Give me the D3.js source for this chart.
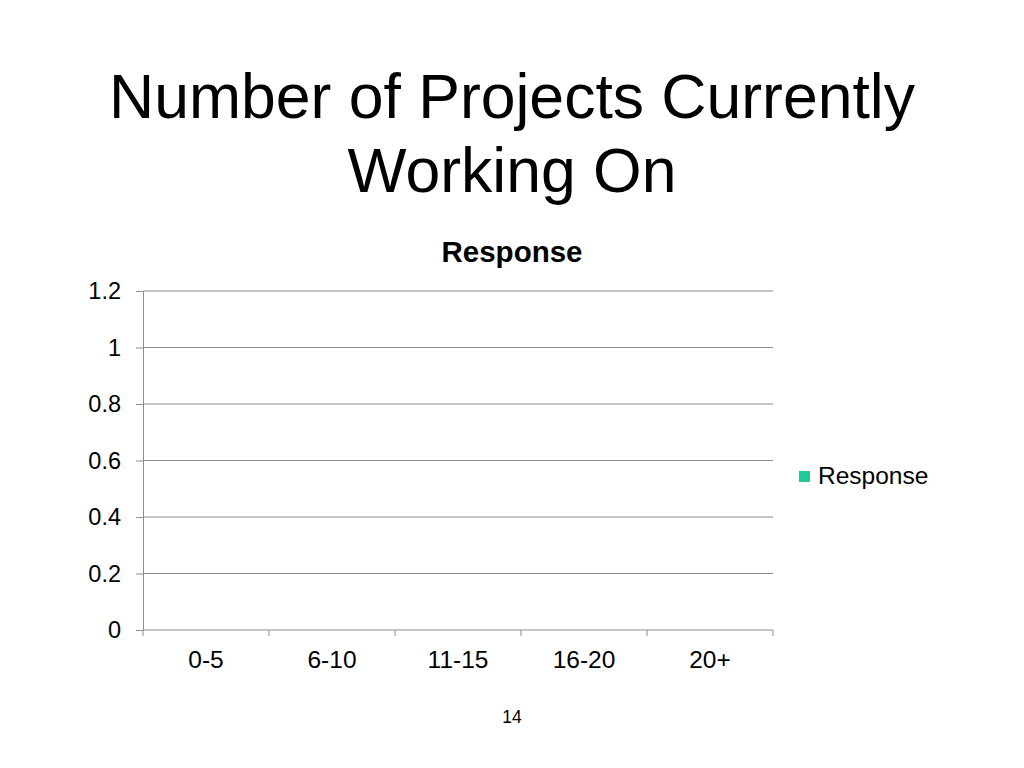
<!DOCTYPE html>
<html><head><meta charset="utf-8">
<script src="https://cdn.jsdelivr.net/npm/d3@7"></script>
<style>body{margin:0;background:#fff}svg{display:block;font-family:"Liberation Sans",Arial,sans-serif}</style>
</head><body>
<svg id="c" width="1024" height="768"></svg>
<script>
const categories = ["0-5","6-10","11-15","16-20","20+"];
const responseValues = [0,0,0,0,0];
const yTicks = [0,0.2,0.4,0.6,0.8,1,1.2];
const seriesName = "Response";

const svg = d3.select("#c");
const m = {l:143, r:773, t:291, b:630};
const x = d3.scaleBand().domain(categories).range([m.l, m.r]).paddingInner(0.5).paddingOuter(0.25);
const xEdge = d3.scaleLinear().domain([0, categories.length]).range([m.l, m.r]);
const y = d3.scaleLinear().domain([0,1.2]).range([m.b, m.t]);

svg.append("text").attr("x",512).attr("y",118).attr("text-anchor","middle")
  .attr("font-size",62.5).attr("fill","#000").text("Number of Projects Currently");
svg.append("text").attr("x",512).attr("y",192).attr("text-anchor","middle")
  .attr("font-size",62.5).attr("fill","#000").text("Working On");
svg.append("text").attr("x",512).attr("y",262).attr("text-anchor","middle")
  .attr("font-size",29.5).attr("font-weight","bold").attr("fill","#000").text(seriesName);

// gridlines + y axis
const yAxis = d3.axisLeft(y).tickValues(yTicks).tickFormat(d=>d3.format("")(d)).tickSize(7).tickPadding(15);
const ga = svg.append("g").attr("transform",`translate(${m.l},0)`).call(yAxis);
ga.select(".domain").attr("stroke","#8c8c8c");
ga.selectAll(".tick line").attr("stroke","#8c8c8c");
ga.selectAll(".tick text").attr("font-size",23.5).attr("fill","#000").attr("font-family","Liberation Sans, Arial, sans-serif");
svg.append("g").selectAll("line").data(yTicks.filter(d=>d>0)).join("line")
  .attr("x1",m.l).attr("x2",m.r).attr("y1",d=>y(d)).attr("y2",d=>y(d))
  .attr("stroke","#8c8c8c").attr("stroke-width",1);

// x axis
svg.append("line").attr("x1",m.l).attr("x2",m.r).attr("y1",m.b).attr("y2",m.b).attr("stroke","#8c8c8c");
svg.append("g").selectAll("line").data(d3.range(categories.length+1)).join("line")
  .attr("x1",d=>xEdge(d)).attr("x2",d=>xEdge(d)).attr("y1",m.b).attr("y2",m.b+6).attr("stroke","#8c8c8c");
svg.append("g").selectAll("text").data(categories).join("text")
  .attr("x",d=>x(d)+x.bandwidth()/2).attr("y",m.b+38).attr("text-anchor","middle")
  .attr("font-size",24.5).attr("fill","#000").text(d=>d);

// bars (all zero)
svg.append("g").selectAll("rect").data(responseValues).join("rect")
  .attr("x",(d,i)=>x(categories[i])).attr("width",x.bandwidth())
  .attr("y",d=>y(d)).attr("height",d=>y(0)-y(d)).attr("fill","#1fc99a");

// legend
svg.append("rect").attr("x",799).attr("y",471).attr("width",11).attr("height",11).attr("fill","#1fc99a");
svg.append("text").attr("x",818).attr("y",484).attr("font-size",24.5).attr("fill","#000").text(seriesName);

svg.append("text").attr("x",512).attr("y",723).attr("text-anchor","middle").attr("font-size",17.5).attr("fill","#000").text("14");
</script>
</body></html>
